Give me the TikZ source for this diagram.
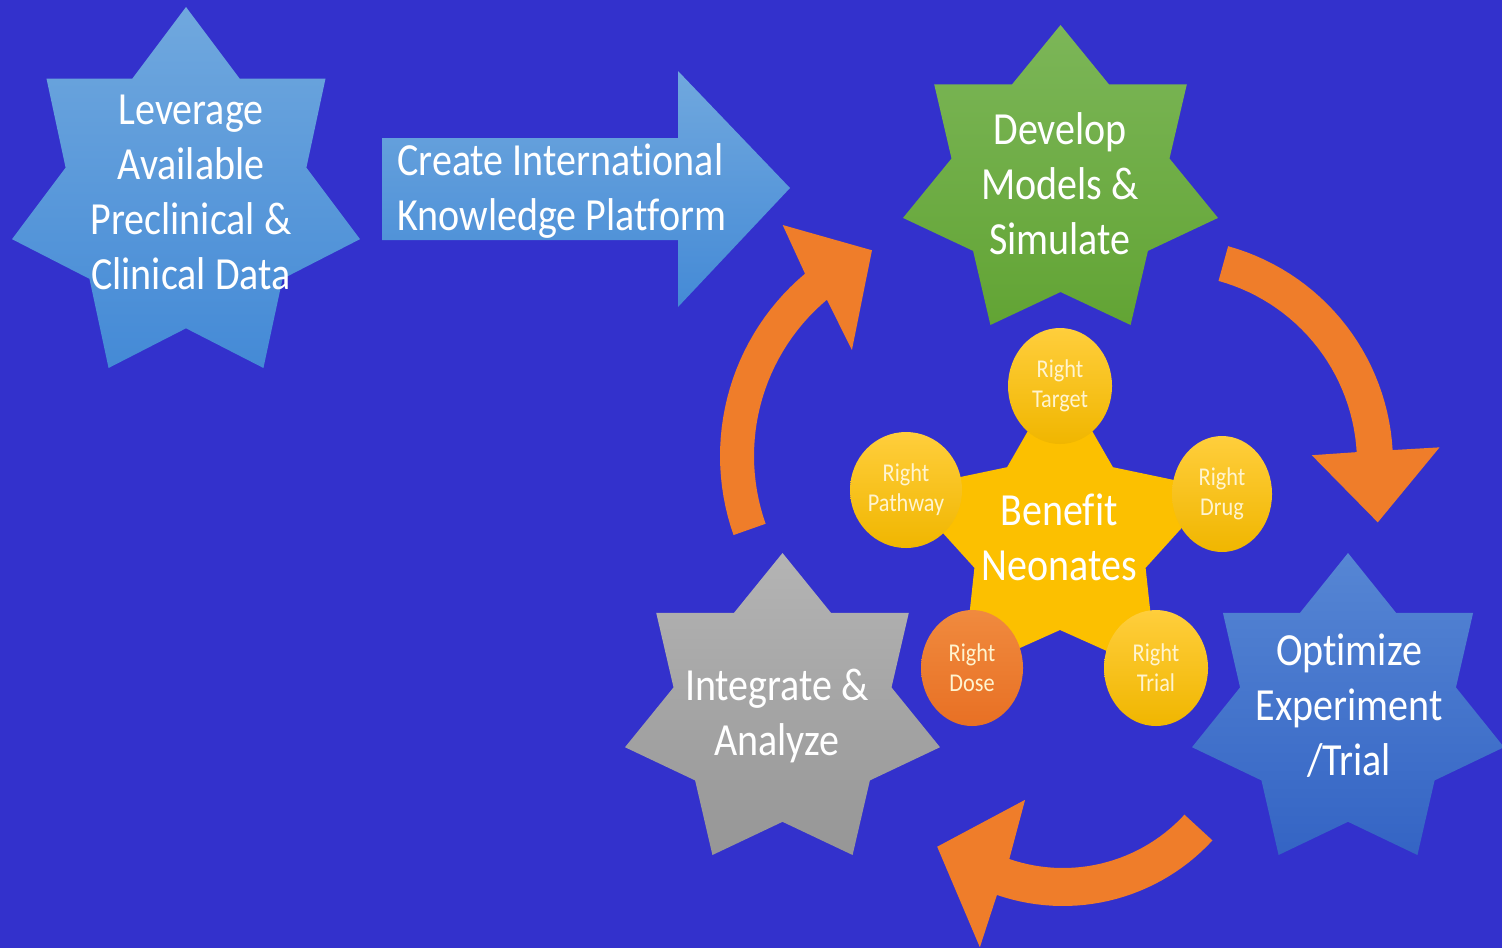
\documentclass[tikz,border=0pt]{standalone}
\usepackage{fontspec}
\newfontfamily\labelfont{Carlito}[FakeStretch=0.87, Ligatures=NoCommon]
\usetikzlibrary{shapes.geometric}

\definecolor{bgblue}{RGB}{51,49,204}
\definecolor{skylight}{RGB}{112,168,222}
\definecolor{skydark}{RGB}{68,138,214}
\definecolor{leaflight}{RGB}{124,182,88}
\definecolor{leafdark}{RGB}{98,164,52}
\definecolor{greylight}{RGB}{180,180,180}
\definecolor{greydark}{RGB}{150,150,150}
\definecolor{royallight}{RGB}{86,134,212}
\definecolor{royaldark}{RGB}{52,100,196}
\definecolor{goldstar}{RGB}{252,192,0}
\definecolor{dotlight}{RGB}{255,206,60}
\definecolor{dotdark}{RGB}{240,182,0}
\definecolor{doselight}{RGB}{240,138,62}
\definecolor{dosedark}{RGB}{232,112,36}
\definecolor{arroworange}{RGB}{239,125,42}
\definecolor{cream}{RGB}{255,244,208}

% seven-pointed star in a box: left, top, width, height, shading
\newcommand{\heptastar}[5]{%
  \shade[#5] plot[variable=\k, samples at={0,...,13}]
    ({#1+#3/2+0.51286*#3*(0.846+0.154*cos(180*\k))*cos(-90+\k*360/14)},
     {#2+0.52605*#4+0.52605*#4*(0.846+0.154*cos(180*\k))*sin(-90+\k*360/14)})
    -- cycle;}

\begin{document}
\begin{tikzpicture}[x=0.5pt, y=-0.5pt,
    startext/.style={font=\labelfont\fontsize{23}{27.5}\selectfont,
                     text=white, align=center},
    dot/.style={ellipse, minimum width=52pt, minimum height=58pt, inner sep=0pt,
                top color=dotlight, bottom color=dotdark, text=cream,
                font=\labelfont\fontsize{12.8}{15}\selectfont, align=center},
    bendarrow/.style={fill=arroworange}
  ]
  \useasboundingbox (0,0) rectangle (1502,948);
  \fill[bgblue] (0,0) rectangle (1502,948);

  % platform arrow
  \shade[top color=skylight, bottom color=skydark]
    (382,138) -- (678,138) -- (678,71) -- (790,188) -- (678,307)
    -- (678,240) -- (382,240) -- cycle;

  % cycle arrows
  \begin{scope}[shift={(958,456)}]
    \fill[bendarrow] plot[domain=160.6:230, samples=30] (\x:238)
      -- (232.8:290) -- (247.3:223) -- (225:150)
      -- plot[domain=230:160.6, samples=30] (\x:204) -- cycle;
  \end{scope}
  \begin{scope}[shift={(1168,463)}]
    \fill[bendarrow] plot[domain=-74.5:-3.3, samples=30] (\x:225)
      -- (-3.3:272) -- (15.8:218) -- (-3.1:144)
      -- plot[domain=-3.3:-74.5, samples=30] (\x:189) -- cycle;
  \end{scope}
  \begin{scope}[shift={(1063,703)}]
    \fill[bendarrow] plot[domain=42.6:109, samples=30] (\x:203)
      -- (108.8:258) -- (131.2:191) -- (111.4:104)
      -- plot[domain=109:42.6, samples=30] (\x:165) -- cycle;
  \end{scope}

  % stars
  \heptastar{12}{7}{348}{361}{top color=skylight, bottom color=skydark}
  \heptastar{903}{25}{315}{300}{top color=leaflight, bottom color=leafdark}
  \heptastar{625}{553}{315}{302}{top color=greylight, bottom color=greydark}
  \heptastar{1192}{553}{312}{302}{top color=royallight, bottom color=royaldark}

  % centre star
  \begin{scope}[shift={(1060,540)}]
    \fill[goldstar] plot[variable=\k, samples at={0,...,9}]
      ({(127.5+37.5*cos(180*\k))*cos(-90+\k*36)},
       {(127.5+37.5*cos(180*\k))*sin(-90+\k*36)}) -- cycle;
  \end{scope}

  \node[dot] (target)  at (1060,386) {Right\\Target};
  \node[dot, minimum width=56pt] (pathway) at (906,490) {Right\\Pathway};
  \node[dot, minimum width=50pt] (drug) at (1222,494) {Right\\Drug};
  \node[dot, minimum width=51pt, top color=doselight, bottom color=dosedark]
    (dose) at (972,668) {Right\\Dose};
  \node[dot] (trial) at (1156,668) {Right\\Trial};

  % labels
  \node[startext] (leverage) at (191,192)
    {Leverage\\Available\\Preclinical \&\\Clinical Data};
  \node[startext, align=left, anchor=west, inner sep=0pt] (platform)
    at (397,191) {Create International\\Knowledge Platform};
  \node[startext] (develop) at (1060,184) {Develop\\Models \&\\Simulate};
  \node[startext] (integrate) at (777,716) {Integrate \&\\Analyze};
  \node[startext] (optimize) at (1349,706) {Optimize\\Experiment\\/Trial};
  \node[startext] (benefit) at (1059,537) {Benefit\\Neonates};
\end{tikzpicture}
\end{document}
